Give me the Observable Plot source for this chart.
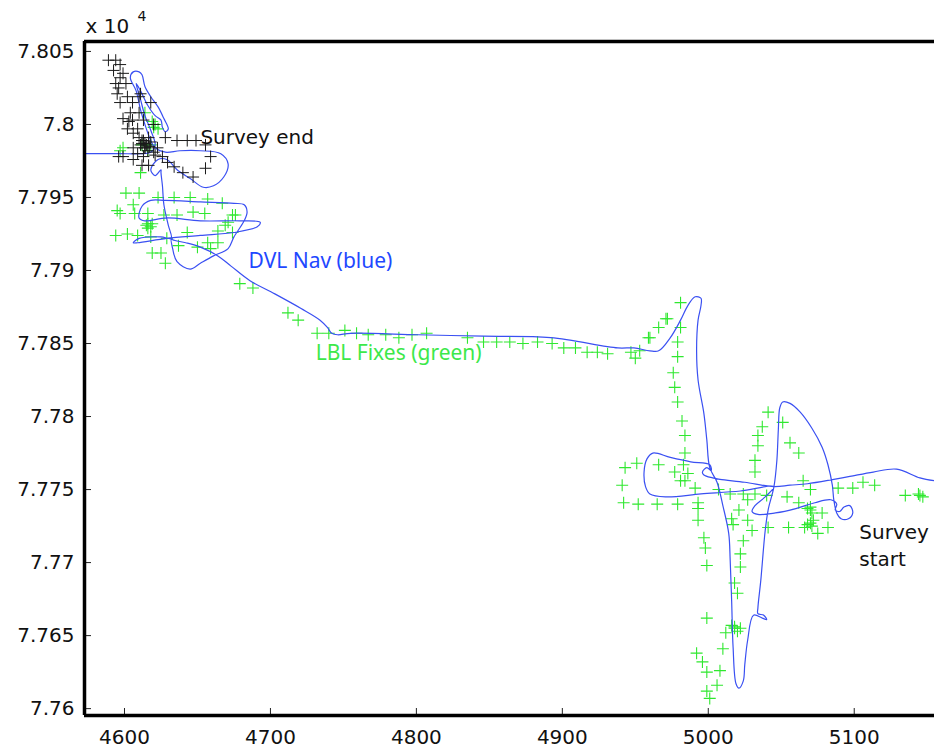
<!DOCTYPE html>
<html><head><meta charset="utf-8">
<script src="https://cdn.jsdelivr.net/npm/d3@7"></script>
<script src="https://cdn.jsdelivr.net/npm/@observablehq/plot@0.6"></script>
<style>body{margin:0;background:#fff}#chart{width:934px;height:754px}</style>
</head><body><div id="chart"></div>
<script>
const xTicks = [4600, 4700, 4800, 4900, 5000, 5100];
const yTicks = [77600, 77650, 77700, 77750, 77800, 77850, 77900, 77950, 78000, 78050];
const xDomain = [4572.6, 5155];
const yDomain = [77595.3, 78056.8];

// DVL navigation track (blue)
const dvlNav = [[5155,77756],[5145,77758],[5129,77764],[5113,77762],[5097,77759],[5086,77757],[5068,77754],[5056,77753],[5045,77752],[5025,77755],[5008,77757],[5003,77758],[4997,77760],[4996,77762],[4999,77765],[5002,77763],[5001,77767],[4988,77769],[4974,77772],[4962,77775],[4958,77771],[4956,77762],[4957,77752],[4960,77747],[4971,77745],[4995,77747],[5022,77749],[5045,77752],[5039,77745],[5032,77739],[5030,77735],[5034,77733],[5046,77734],[5060,77737],[5073,77741],[5084,77743],[5088,77740],[5087,77736],[5090,77735],[5093,77738],[5097,77739],[5099,77734],[5096,77730],[5091,77730],[5088,77734],[5086,77743],[5085,77753],[5082,77767],[5078,77779],[5071,77792],[5063,77803],[5056,77809],[5051,77810],[5049,77806],[5048,77791],[5047,77770],[5045,77752],[5041,77736],[5039,77722],[5036,77688],[5034,77669],[5034,77665],[5038,77664],[5040,77661],[5037,77662],[5031,77664],[5027,77647],[5025,77630],[5024,77619],[5021,77614],[5019,77617],[5017,77642],[5016,77674],[5015,77702],[5014,77720],[5010,77739],[5006,77755],[5001,77765],[4999,77784],[4997,77802],[4993,77825],[4992,77845],[4993,77866],[4995,77876],[4995,77881],[4991,77882],[4986,77876],[4981,77866],[4974,77854],[4966,77845],[4960,77845],[4949,77847],[4938,77847],[4892,77854],[4846,77855],[4801,77856],[4755,77857],[4746,77856],[4742,77857],[4739,77861],[4734,77866],[4721,77874],[4703,77884],[4686,77893],[4673,77903],[4664,77910],[4652,77916],[4642,77919],[4633,77921],[4632,77922],[4633,77915],[4636,77906],[4645,77901],[4652,77905],[4661,77910],[4671,77915],[4675,77923],[4682,77934],[4684,77940],[4682,77945],[4675,77946],[4652,77947],[4628,77948],[4618,77948],[4612,77944],[4610,77936],[4614,77934],[4629,77936],[4652,77934],[4679,77934],[4693,77933],[4691,77930],[4675,77926],[4652,77924],[4629,77922],[4609,77919],[4606,77919],[4610,77922],[4625,77923],[4632,77922],[4630,77931],[4627,77945],[4626,77958],[4625,77967],[4625,77969],[4621,77965],[4618,77969],[4623,77976],[4629,77976],[4636,77969],[4645,77963],[4654,77957],[4661,77958],[4668,77964],[4671,77973],[4666,77980],[4652,77982],[4638,77982],[4628,77981],[4621,77984],[4618,77989],[4614,78000],[4611,78010],[4608,78023],[4604,78032],[4606,78036],[4610,78036],[4612,78034],[4614,78026],[4618,78019],[4623,78012],[4627,78004],[4630,77997],[4628,77995],[4626,77998],[4625,78003],[4621,78006],[4616,78013],[4611,78023],[4608,78028],[4611,78017],[4614,78006],[4618,77996],[4621,77986],[4618,77981],[4611,77980],[4597,77980],[4584,77980],[4572.6,77980]];

// LBL fixes (green)
const lblFixes = [[4614,78008],[4619,78002],[4621,78000],[4620,77998],[4599,77984],[4597,77982],[4612,77986],[4616,77982],[4618,77986],[4611,77967],[4623,77997],
[4601,77953],[4610,77953],[4623,77950],[4634,77950],[4645,77950],[4657,77949],[4667,77946],[4595,77941],[4606,77945],[4597,77939],[4607,77939],[4616,77939],[4627,77938],[4636,77938],[4647,77940],[4655,77939],[4674,77938],[4676,77938],[4671,77933],[4616,77932],[4618,77930],[4616,77929],[4619,77932],[4615,77931],[4594,77924],[4602,77925],[4609,77924],[4618,77923],[4629,77922],[4643,77926],[4664,77927],[4674,77926],[4657,77919],[4664,77919],[4637,77917],[4619,77912],[4625,77912],[4628,77905],[4659,77915],[4650,77916],[4669,77931],
[4679,77891],[4688,77888],[4712,77871],[4719,77866],[4732,77857],[4740,77857],[4751,77859],[4759,77857],[4767,77856],[4779,77856],[4788,77854],[4797,77856],[4807,77857],[4835,77854],[4846,77851],[4855,77851],[4864,77851],[4873,77850],[4883,77851],[4893,77850],[4901,77847],[4909,77847],[4917,77844],[4924,77844],[4931,77843],[4947,77844],[4950,77840],[4953,77845],[4959,77854],[4966,77861],[4971,77867],
[4981,77878],[4972,77867],[4981,77861],[4960,77854],[4979,77851],[4979,77841],[4976,77830],[4977,77820],[4979,77810],[4982,77797],[4984,77787],[4984,77775],[4983,77767],[4986,77761],[4984,77756],[4981,77756],[4977,77762],[4966,77767],[4951,77768],[4943,77765],[4941,77753],[4942,77741],[4952,77740],[4965,77740],[4979,77740],[4991,77751],[4993,77741],[4993,77737],[4993,77729],[4997,77717],[4998,77710],[4999,77698],[4999,77662],[4992,77638],[4996,77632],[4999,77625],[4999,77612],[5001,77607],[5008,77626],[5006,77616],[5010,77641],[5012,77652],[5016,77657],[5018,77655],[5022,77655],[5018,77656],[5020,77653],[5018,77686],[5020,77679],[5022,77697],[5022,77706],[5024,77715],[5041,77803],[5051,77796],[5037,77793],[5034,77787],[5034,77780],[5032,77770],[5032,77762],[5056,77782],[5062,77775],[5007,77750],[5015,77747],[5024,77747],[5032,77747],[5040,77746],[5054,77745],[5065,77756],[5070,77750],[5089,77751],[5099,77751],[5106,77755],[5114,77753],[5135,77746],[5145,77746],[5144,77747],[5147,77745],[5021,77736],[5027,77743],[5016,77730],[5017,77726],[5027,77729],[5030,77722],[5041,77724],[5055,77724],[5062,77741],[5070,77736],[5071,77734],[5068,77737],[5070,77738],[5070,77727],[5072,77729],[5068,77726],[5071,77725],[5075,77720],[5082,77724],[5078,77734],[5066,77724]];

// LBL fixes near survey end (black)
const lblEnd = [[4589,78044],[4594,78044],[4597,78041],[4592.5,78037],[4599,78035],[4597,78032],[4594,78028],[4601,78028],[4596,78025],[4595,78021],[4602,78019],[4610,78019],[4597,78015],[4605.5,78015],[4604,78008],[4610,78008],[4599,78004],[4603,78002],[4605.5,78003],[4613,78003],[4602,77997],[4609,77997],[4606,77994],[4610,77991],[4613,77989],[4616.5,77991],[4612,77987],[4614,77984],[4618,77988],[4606,77984],[4599,77978],[4609,77980],[4606,77976],[4613,77978],[4616.5,77972],[4621,77979],[4626,77978],[4629.5,77974],[4622.6,77984],[4628,77991],[4636,77989],[4643,77989],[4649,77989],[4655.5,77986],[4659,77978],[4655.5,77970],[4647,77964],[4640,77967],[4634,77971],[4620,78000],[4618,78015],[4611,78021],[4614,77987],[4611,77986],[4616,77982],[4596,77978],[4612,77972],[4620,77981],[4615,77986],[4614,77984],[4617,77985],[4612,77989]];

const blackNotes = [{text: "Survey end", x: 4652, y: 77999.5}, {text: "Survey\nstart", x: 5103.5, y: 77729}];
const greenNotes = [{text: "LBL Fixes (green)", x: 4731, y: 77849}];
const blueNotes = [{text: "DVL Nav (blue)", x: 4685, y: 77912}];

const plusSymbol = {
  draw(ctx, size) {
    const r = Math.sqrt(size / Math.PI);
    ctx.moveTo(-r, 0); ctx.lineTo(r, 0);
    ctx.moveTo(0, -r); ctx.lineTo(0, r);
  }
};

const fmtY = d => String(Number((d / 1e4).toFixed(3)));
const fmtX = d => String(d);

const chart = Plot.plot({
  width: 934,
  height: 754,
  marginLeft: 84,
  marginRight: 0,
  marginTop: 41,
  marginBottom: 39,
  x: {domain: xDomain, label: null},
  y: {domain: yDomain, label: null},
  style: {fontFamily: "'DejaVu Sans', sans-serif", fontSize: "20px", background: "white", color: "#111", overflow: "visible"},
  marks: [
    Plot.dot(lblFixes, {x: d => d[0], y: d => d[1], symbol: plusSymbol, r: 6, stroke: "#2fe82f", strokeWidth: 1.1, fill: "none"}),
    Plot.line(dvlNav, {x: d => d[0], y: d => d[1], stroke: "#3a50f2", strokeWidth: 1.2, curve: "catmull-rom"}),
    Plot.dot(lblEnd, {x: d => d[0], y: d => d[1], symbol: plusSymbol, r: 6, stroke: "#1a1a1a", strokeWidth: 1, fill: "none"}),
    Plot.text(blackNotes, {x: "x", y: "y", text: "text", textAnchor: "start", lineAnchor: "top", lineHeight: 1.35, fontSize: 20, fill: "#111", fontFamily: "'DejaVu Sans', sans-serif"}),
    Plot.text(blueNotes, {x: "x", y: "y", text: "text", textAnchor: "start", lineAnchor: "top", fontSize: 21, fill: "#1f48ff", fontFamily: "'Noto Sans', sans-serif"}),
    Plot.text(greenNotes, {x: "x", y: "y", text: "text", textAnchor: "start", lineAnchor: "top", fontSize: 21, fill: "#3de84a", fontFamily: "'Noto Sans', sans-serif"}),
    Plot.tickX(xTicks, {x: d => d, insetTop: 667, stroke: "#222", strokeWidth: 1}),
    Plot.tickY(yTicks, {y: d => d, insetRight: 843, stroke: "#222", strokeWidth: 1}),
    Plot.axisX(xTicks, {tickSize: 0, tickPadding: 14, fontSize: 20, label: null, tickFormat: fmtX}),
    Plot.axisY(yTicks, {tickSize: 0, tickPadding: 10, fontSize: 20, label: null, tickFormat: fmtY}),
    Plot.ruleX([xDomain[0]], {stroke: "#000", strokeWidth: 3.5}),
    Plot.ruleY([yDomain[0], yDomain[1]], {stroke: "#000", strokeWidth: 3.5}),
    Plot.text(["x 10"], {frameAnchor: "top-left", dx: 1, dy: -9, textAnchor: "start", lineAnchor: "bottom", fontSize: 20, fill: "#111"}),
    Plot.text(["4"], {frameAnchor: "top-left", dx: 53, dy: -21, textAnchor: "start", lineAnchor: "bottom", fontSize: 14, fill: "#111"})
  ]
});
document.getElementById("chart").append(chart);
</script>
</body></html>
